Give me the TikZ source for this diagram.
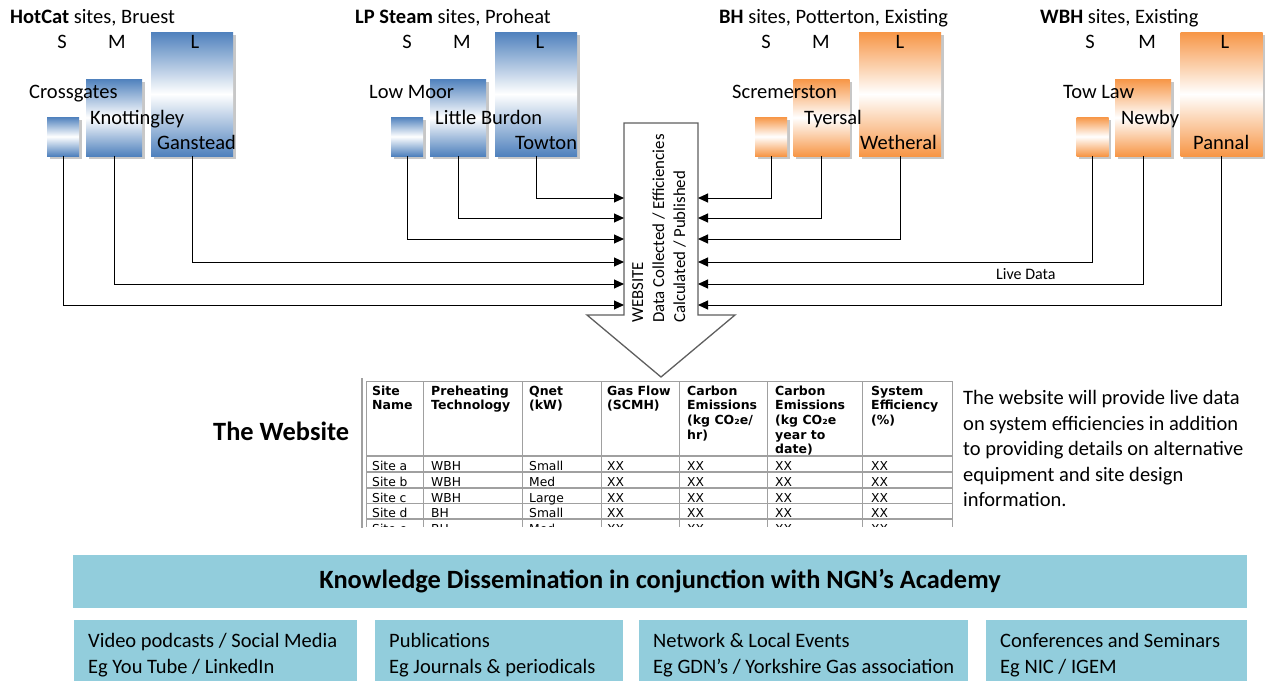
\documentclass[tikz,border=0pt]{standalone}
\usepackage{fontspec}
\setmainfont{Carlito}
\newfontfamily\tabfont{DejaVu Sans}
\usetikzlibrary{arrows.meta,shadows}
\definecolor{bluec}{RGB}{79,129,189}
\definecolor{orangec}{RGB}{247,150,70}
\definecolor{aquac}{RGB}{146,205,220}
\definecolor{arrowgray}{RGB}{95,95,95}
\definecolor{tabgray}{RGB}{160,160,160}
\begin{document}
\begin{tikzpicture}[x=1pt,y=-1pt,
  sitebox/.style={inner sep=0, outer sep=0, draw=none,
    drop shadow={shadow xshift=2.5pt, shadow yshift=-2.5pt, fill=black, opacity=0.22}},
  bluebox/.style={sitebox, top color=bluec, bottom color=bluec, middle color=white},
  orangebox/.style={sitebox, top color=orangec, bottom color=orangec, middle color=white},
  sbox/.style={minimum width=32, minimum height=39},
  mbox/.style={minimum width=56, minimum height=77},
  lbox/.style={minimum width=82, minimum height=124},
  lbl/.style={font=\fontsize{20.5}{24}\selectfont, inner sep=0, anchor=base west},
  sml/.style={font=\fontsize{20.5}{24}\selectfont, inner sep=0, anchor=base},
  conn/.style={draw=black, line width=1pt, -{Triangle[length=10pt,width=9pt]}},
  th/.style={font=\tabfont\bfseries\fontsize{12.5}{14}\selectfont, inner sep=0, anchor=base west},
  tb/.style={font=\tabfont\fontsize{12.3}{14}\selectfont, inner sep=0, anchor=base west},
  aquabox/.style={fill=aquac, draw=none, inner sep=0},
  para/.style={font=\fontsize{20.5}{24}\selectfont, inner sep=0, anchor=base west}
]
\useasboundingbox (0,0) rectangle (1265,680);

% ---------- site boxes ----------
\node[bluebox,sbox] (hcS) at (63,136.5) {};
\node[bluebox,mbox] (hcM) at (114,117.5) {};
\node[bluebox,lbox] (hcL) at (192,94) {};
\node[bluebox,sbox] (lpS) at (407,136.5) {};
\node[bluebox,mbox] (lpM) at (458,117.5) {};
\node[bluebox,lbox] (lpL) at (536,94) {};
\node[orangebox,sbox] (bhS) at (771,136.5) {};
\node[orangebox,mbox] (bhM) at (821.5,117.5) {};
\node[orangebox,lbox] (bhL) at (900,94) {};
\node[orangebox,sbox] (wbS) at (1092.5,136.5) {};
\node[orangebox,mbox] (wbM) at (1143,117.5) {};
\node[orangebox,lbox] (wbL) at (1221.5,94) {};

% ---------- titles ----------
\node[lbl] (t1) at (10,23) {\textbf{HotCat} sites, Bruest};
\node[lbl] (t2) at (355,23) {\textbf{LP Steam} sites, Proheat};
\node[lbl] (t3) at (719,23) {\textbf{BH} sites, Potterton, Existing};
\node[lbl] (t4) at (1040,23) {\textbf{WBH} sites, Existing};

% ---------- S M L ----------
\node[sml] (s1) at (62,48) {S};   \node[sml] (m1) at (117,48) {M};  \node[sml] (l1) at (195,48) {L};
\node[sml] (s2) at (407,48) {S};  \node[sml] (m2) at (462,48) {M};  \node[sml] (l2) at (540,48) {L};
\node[sml] (s3) at (766,48) {S};  \node[sml] (m3) at (821,48) {M};  \node[sml] (l3) at (900,48) {L};
\node[sml] (s4) at (1090,48) {S}; \node[sml] (m4) at (1147,48) {M}; \node[sml] (l4) at (1225,48) {L};

% ---------- site names ----------
\node[lbl] (n1) at (29,98.5) {Crossgates};
\node[lbl] (n2) at (90,124) {Knottingley};
\node[lbl] (n3) at (157,149.5) {Ganstead};
\node[lbl] (n4) at (369,98.5) {Low Moor};
\node[lbl] (n5) at (435,124) {Little Burdon};
\node[lbl] (n6) at (515,149.5) {Towton};
\node[lbl] (n7) at (732,98.5) {Scremerston};
\node[lbl] (n8) at (804,124) {Tyersal};
\node[lbl] (n9) at (860,149.5) {Wetheral};
\node[lbl] (n10) at (1063,98.5) {Tow Law};
\node[lbl] (n11) at (1121,124) {Newby};
\node[lbl] (n12) at (1193,149.5) {Pannal};

% ---------- big website arrow ----------
\draw[arrowgray, line width=1.3pt, fill=white]
  (624,123) -- (698,123) -- (698,315) -- (735,315) -- (661,377) -- (587,315) -- (624,315) -- cycle;
\node[rotate=90, anchor=west, align=left, inner sep=0, font=\fontsize{16.8}{21}\selectfont] (web) at (659,323)
  {WEBSITE\\Data Collected / Efficiencies\\Calculated / Published};

\coordinate (inL1) at (624,198); \coordinate (inL2) at (624,218); \coordinate (inL3) at (624,239);
\coordinate (inL4) at (624,262); \coordinate (inL5) at (624,284); \coordinate (inL6) at (624,305);
\coordinate (inR1) at (698,198); \coordinate (inR2) at (698,218); \coordinate (inR3) at (698,239);
\coordinate (inR4) at (698,262); \coordinate (inR5) at (698,284); \coordinate (inR6) at (698,305);

\draw[conn] (lpL.south) |- (inL1);
\draw[conn] (lpM.south) |- (inL2);
\draw[conn] (lpS.south) |- (inL3);
\draw[conn] (hcL.south) |- (inL4);
\draw[conn] (hcM.south) |- (inL5);
\draw[conn] (hcS.south) |- (inL6);
\draw[conn] (bhS.south) |- (inR1);
\draw[conn] (bhM.south) |- (inR2);
\draw[conn] (bhL.south) |- (inR3);
\draw[conn] (wbS.south) |- (inR4);
\draw[conn] (wbM.south) |- (inR5);
\draw[conn] (wbL.south) |- (inR6);

\node[font=\fontsize{16}{19}\selectfont, anchor=base west, inner sep=0] (live) at (996,279) {Live Data};

% ---------- table ----------
\node[font=\bfseries\fontsize{26.4}{30}\selectfont, anchor=base west, inner sep=0] (tw) at (213,440.5) {The Website};
\draw[tabgray, line width=1.2pt] (362,378) -- (362,528);
\begin{scope}
\clip (355,375) rectangle (960,526.5);
\draw[tabgray, line width=1pt] (366,381) -- (952,381);
\foreach \yy in {456,472,488,503.5,519,535} \draw[tabgray, line width=1.3pt] (366,\yy) -- (952,\yy);
\foreach \xx in {366,423,522,601,679,767,862,952} \draw[tabgray, line width=1pt] (\xx,381) -- (\xx,540);
\node[th] at (372,395) {Site};
\node[th] at (372,409.7) {Name};
\node[th] at (431,395) {Preheating};
\node[th] at (431,409.7) {Technology};
\node[th] at (529,395) {Qnet};
\node[th] at (529,409.7) {(kW)};
\node[th] at (607,395) {Gas Flow};
\node[th] at (607,409.7) {(SCMH)};
\node[th] at (687,395) {Carbon};
\node[th] at (687,409.7) {Emissions};
\node[th] at (687,424.4) {(kg CO₂e/};
\node[th] at (687,439.1) {hr)};
\node[th] at (775,395) {Carbon};
\node[th] at (775,409.7) {Emissions};
\node[th] at (775,424.4) {(kg CO₂e};
\node[th] at (775,439.1) {year to};
\node[th] at (775,453.8) {date)};
\node[th] at (871,395) {System};
\node[th] at (871,409.7) {Efficiency};
\node[th] at (871,424.4) {(\%)};
\foreach \r/\yy/\tt/\qq in {a/470/WBH/Small, b/486/WBH/Med, c/502/WBH/Large, d/517.5/BH/Small, e/533/BH/Med} {
  \node[tb] at (372,\yy) {Site \r};
  \node[tb] at (431,\yy) {\tt};
  \node[tb] at (529,\yy) {\qq};
  \foreach \xx in {607,687,775,871} \node[tb] at (\xx,\yy) {XX};
}
\end{scope}

% ---------- description ----------
\foreach \yy/\txt in {404.5/The website will provide live data, 430.5/on system efficiencies in addition,
  455.5/to providing details on alternative, 481.5/equipment and site design, 506.5/information.}
  \node[para] at (963,\yy) {\txt};

% ---------- knowledge dissemination ----------
\node[aquabox, minimum width=1174, minimum height=53, font=\bfseries\fontsize{26.4}{30}\selectfont] (kd) at (660,581.5)
  {Knowledge Dissemination in conjunction with NGN’s Academy};
\node[aquabox, minimum width=283, minimum height=70] (kd1) at (215.5,655) {};
\node[aquabox, minimum width=248, minimum height=70] (kd2) at (499,655) {};
\node[aquabox, minimum width=329, minimum height=70] (kd3) at (803.5,655) {};
\node[aquabox, minimum width=261, minimum height=70] (kd4) at (1116.5,655) {};
\node[para] (k1a) at (88,647) {Video podcasts / Social Media};
\node[para] (k1b) at (88,673) {Eg You Tube / LinkedIn};
\node[para] (k2a) at (389,647) {Publications};
\node[para] (k2b) at (389,673) {Eg Journals \& periodicals};
\node[para] (k3a) at (653,647) {Network \& Local Events};
\node[para] (k3b) at (653,673) {Eg GDN’s / Yorkshire Gas association};
\node[para] (k4a) at (1000,647) {Conferences and Seminars};
\node[para] (k4b) at (1000,673) {Eg NIC / IGEM};
\end{tikzpicture}
\end{document}
